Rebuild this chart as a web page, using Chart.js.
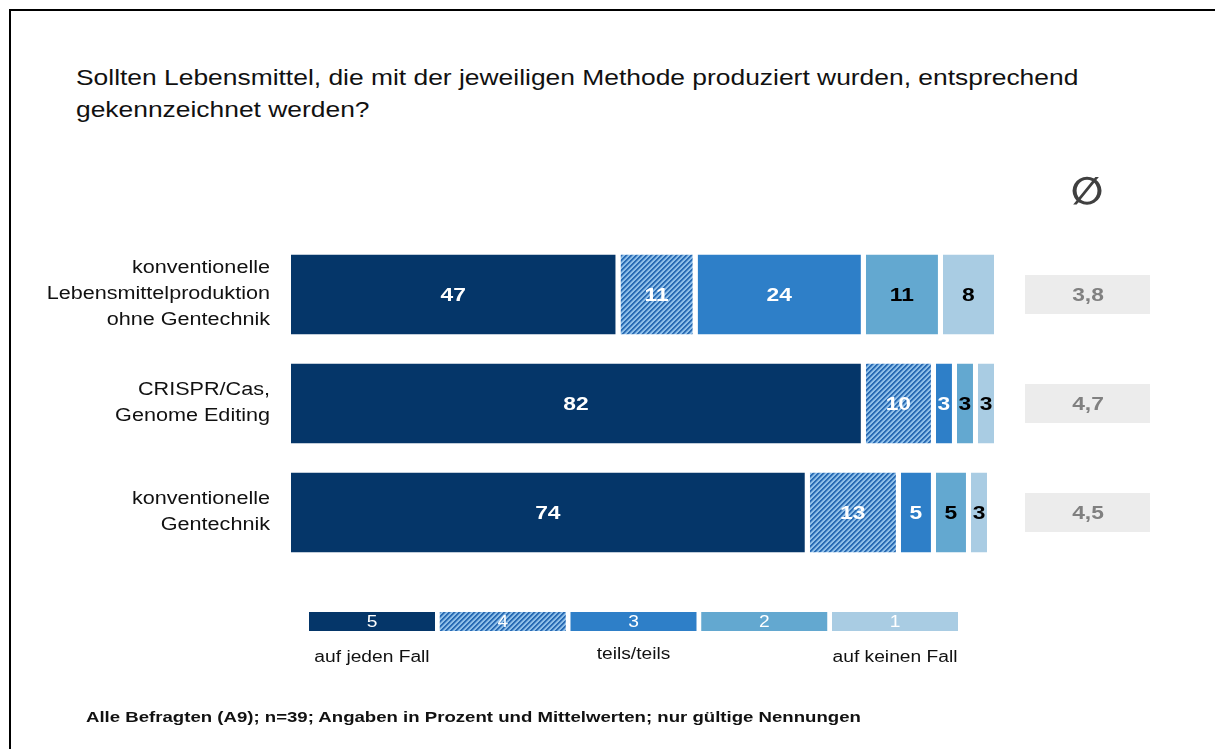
<!DOCTYPE html>
<html>
<head>
<meta charset="utf-8">
<script src="https://cdn.jsdelivr.net/npm/chart.js@4"></script>
<style>
  body { margin: 0; background: #fff; font-family: "Liberation Sans", Arial, sans-serif; }
  #wrap { position: relative; width: 1215px; height: 749px; overflow: hidden; }
  #frame { position: absolute; left: 9px; top: 9px; width: 1220px; height: 750px;
           border-top: 2px solid #000; border-left: 2px solid #000; }
  #title { position: absolute; left: 76px; top: 62px; font-size: 22px; line-height: 32px; color: #111;
           white-space: nowrap; transform: scaleX(1.2); transform-origin: left top; }
  #note { position: absolute; left: 86px; top: 708px; font-size: 15.5px; font-weight: bold; color: #111;
          white-space: nowrap; transform: scaleX(1.2); transform-origin: left top; }
  canvas { position: absolute; left: 0; top: 0; }
</style>
</head>
<body>
<div id="wrap">
  <div id="frame"></div>
  <div id="title">Sollten Lebensmittel, die mit der jeweiligen Methode produziert wurden, entsprechend<br>gekennzeichnet werden?</div>
  <canvas id="myChart" width="1215" height="749"></canvas>
  <div id="note">Alle Befragten (A9); n=39; Angaben in Prozent und Mittelwerten; nur gültige Nennungen</div>
</div>
<script>
const categories = [
  ["konventionelle", "Lebensmittelproduktion", "ohne Gentechnik"],
  ["CRISPR/Cas,", "Genome Editing"],
  ["konventionelle", "Gentechnik"]
];
const scaleLabels = ["5", "4", "3", "2", "1"];
const anchorLabels = ["auf jeden Fall", "teils/teils", "auf keinen Fall"];
const val5 = [47, 82, 74];
const val4 = [11, 10, 13];
const val3 = [24, 3, 5];
const val2 = [11, 3, 5];
const val1 = [8, 3, 3];
const means = ["3,8", "4,7", "4,5"];

const FONT = '"Liberation Sans", Arial, sans-serif';
const GAP = 5;
const SX = 1.2; // the slide's text runs wide

const ctx = document.getElementById("myChart");

// diagonal stripes for answer "4"
function hatch() {
  const c = document.createElement("canvas");
  c.width = c.height = 5;
  const g = c.getContext("2d");
  const img = g.createImageData(5, 5);
  const dark = [42, 108, 180], mid = [92, 150, 210], light = [143, 191, 232];
  for (let y = 0; y < 5; y++) {
    for (let x = 0; x < 5; x++) {
      const d = (x + y) % 5;
      const col = d < 2 ? dark : d === 2 ? mid : light;
      const i = (y * 5 + x) * 4;
      img.data[i] = col[0]; img.data[i + 1] = col[1]; img.data[i + 2] = col[2]; img.data[i + 3] = 255;
    }
  }
  g.putImageData(img, 0, 0);
  return ctx.getContext("2d").createPattern(c, "repeat");
}

const fills = ["#053669", hatch(), "#2e7fc8", "#63a8d0", "#a9cce3"];
const labelColors = ["#fff", "#fff", "#fff", "#000", "#000"];

function wideText(c, text, x, y, align) {
  c.save();
  c.translate(x, y);
  c.scale(SX, 1);
  c.textAlign = align || "center";
  c.fillText(text, 0, 0);
  c.restore();
}

const barStyle = {
  borderColor: "#fff",
  borderWidth: { top: 0, bottom: 0, left: 0, right: GAP },
  borderSkipped: false,
  inflateAmount: 0,
  barPercentage: 0.734,
  categoryPercentage: 1
};

const segmentLabels = {
  id: "segmentLabels",
  afterDatasetsDraw(chart) {
    const c = chart.ctx;
    c.save();
    c.font = "bold 19px " + FONT;
    c.textBaseline = "middle";
    chart.data.datasets.forEach((ds, di) => {
      chart.getDatasetMeta(di).data.forEach((bar, i) => {
        c.fillStyle = labelColors[di];
        const x = (bar.x + bar.base) / 2 - GAP / 2;
        wideText(c, String(ds.data[i]), x, bar.y + 1);
      });
    });
    c.restore();
  }
};

const categoryLabels = {
  id: "categoryLabels",
  afterDraw(chart) {
    const c = chart.ctx;
    const y = chart.scales.y;
    const lh = 26;
    c.save();
    c.fillStyle = "#111";
    c.font = "18px " + FONT;
    c.textBaseline = "middle";
    categories.forEach((lines, i) => {
      const cy = y.getPixelForValue(i);
      lines.forEach((line, k) => {
        wideText(c, line, 270, cy + (k - (lines.length - 1) / 2) * lh, "right");
      });
    });
    c.restore();
  }
};

const meanColumn = {
  id: "meanColumn",
  afterDraw(chart) {
    const c = chart.ctx;
    const y = chart.scales.y;
    c.save();
    c.fillStyle = "#404040";
    c.font = "bold 38px \"DejaVu Sans\"";
    c.textAlign = "center";
    c.textBaseline = "middle";
    c.fillText("\u2205", 1087, 194);
    means.forEach((m, i) => {
      const cy = y.getPixelForValue(i);
      c.fillStyle = "#ececec";
      c.fillRect(1025, cy - 19.5, 125, 39);
      c.fillStyle = "#808080";
      c.font = "bold 19px " + FONT;
      wideText(c, m, 1088, cy + 1);
    });
    c.restore();
  }
};

const scaleLegend = {
  id: "scaleLegend",
  afterDraw(chart) {
    const c = chart.ctx;
    c.save();
    c.textBaseline = "middle";
    const x0 = 309, step = 130.75, w = 126, top = 612, h = 19;
    scaleLabels.forEach((lab, i) => {
      const x = x0 + i * step;
      c.fillStyle = fills[i];
      c.fillRect(x, top, w, h);
      c.fillStyle = "#fff";
      c.font = "16px " + FONT;
      wideText(c, lab, x + w / 2, top + h / 2 + 1);
    });
    c.fillStyle = "#111";
    c.font = "16px " + FONT;
    [0, 2, 4].forEach((k, j) => {
      wideText(c, anchorLabels[j], x0 + k * step + w / 2, j === 1 ? 655 : 658);
    });
    c.restore();
  }
};

new Chart(ctx, {
  type: "bar",
  data: {
    labels: categories,
    datasets: [
      { label: scaleLabels[0], data: val5, backgroundColor: fills[0], ...barStyle },
      { label: scaleLabels[1], data: val4, backgroundColor: fills[1], ...barStyle },
      { label: scaleLabels[2], data: val3, backgroundColor: fills[2], ...barStyle },
      { label: scaleLabels[3], data: val2, backgroundColor: fills[3], ...barStyle },
      { label: scaleLabels[4], data: val1, backgroundColor: fills[4], ...barStyle }
    ]
  },
  options: {
    indexAxis: "y",
    responsive: false,
    animation: false,
    devicePixelRatio: 1,
    layout: { padding: { left: 0, right: 216, top: 240, bottom: 182 } },
    plugins: { legend: { display: false }, tooltip: { enabled: false } },
    scales: {
      x: { stacked: true, min: 0, max: 101, display: false },
      y: {
        stacked: true,
        grid: { display: false, drawTicks: false },
        border: { display: false },
        ticks: { display: false },
        afterFit(scale) { scale.width = 291; }
      }
    }
  },
  plugins: [segmentLabels, categoryLabels, meanColumn, scaleLegend]
});
</script>
</body>
</html>
